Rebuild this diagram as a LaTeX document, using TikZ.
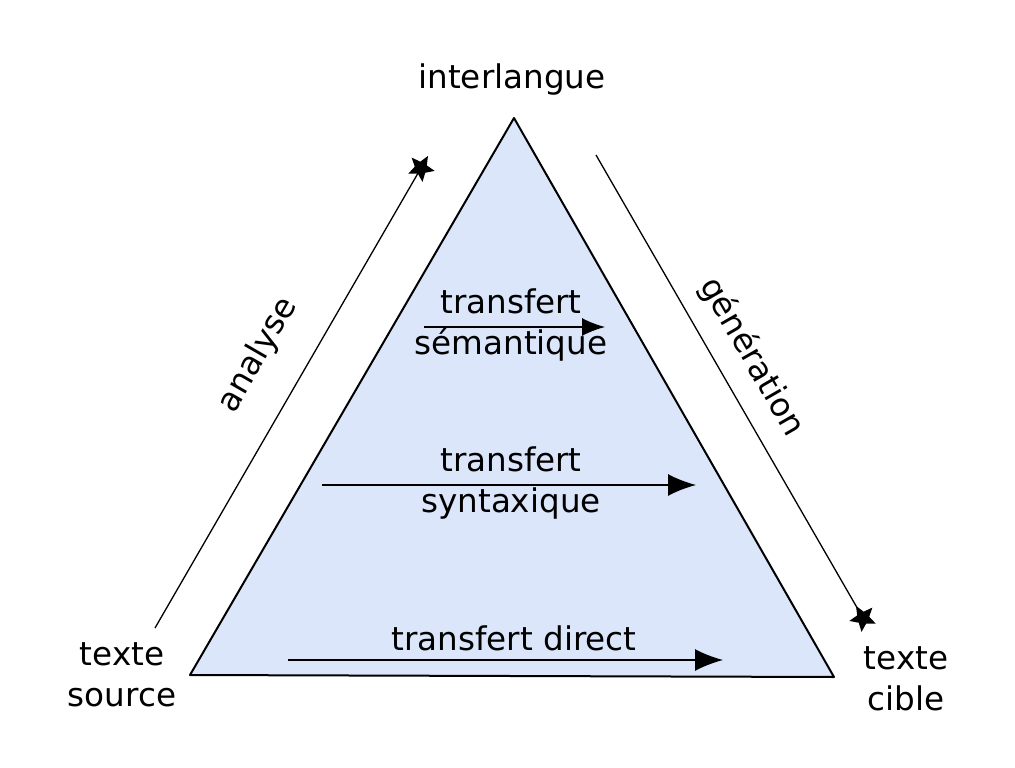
\documentclass[tikz,border=0pt]{standalone}
\usepackage{fontspec}
\setmainfont{DejaVu Sans}
\usetikzlibrary{arrows.meta,shapes.geometric}
\definecolor{tri}{RGB}{220,230,250}
\tikzset{
  lbl/.style={font=\fontsize{32.6}{41}\selectfont, align=center, inner sep=0pt},
  thin/.style={line width=1.3pt},
  xfer/.style={line width=1.6pt, -{Latex[length=28pt,width=22pt]}},
  starhead/.style={star, star points=5, star point ratio=2.2, fill=black, draw=none, inner sep=0pt, minimum size=28pt}
}
\begin{document}
\begin{tikzpicture}[x=1pt,y=-1pt]
\useasboundingbox (0,0) rectangle (1015,768);
% triangle
\coordinate (A) at (514,118);
\coordinate (B) at (190,675);
\coordinate (C) at (834,677);
\draw[fill=tri, line width=2pt, line join=round] (A) -- (B) -- (C) -- cycle;
% labels
\node[lbl] (inter) at (512,80) {interlangue};
\node[lbl] (src) at (122,675) {texte\\source};
\node[lbl] (tgt) at (906,679) {texte\\cible};
\node[lbl, rotate=60] (ana) at (258,355) {analyse};
\node[lbl, rotate=-60] (gen) at (752,357) {génération};
\node[lbl] (sem) at (511,325) {transfert\\sémantique};
\node[lbl] (syn) at (511,483) {transfert\\syntaxique};
\node[lbl] (dir) at (514,638) {transfert direct};
% analyse / generation arrows
\coordinate (a0) at (155,628);
\node[starhead, rotate=-30] (s1) at (421,168) {};
\draw[thin] (a0) -- (s1.center);
\coordinate (g0) at (596,155);
\node[starhead, rotate=30] (s2) at (863,618) {};
\draw[thin] (g0) -- (s2.center);
% transfer arrows
\coordinate (sem0) at (424,327);
\coordinate (sem1) at (605,327);
\draw[line width=1.4pt, -{Latex[length=23pt,width=18pt]}] (sem0) -- (sem1);
\coordinate (syn0) at (322,485);
\coordinate (syn1) at (696,485);
\draw[xfer] (syn0) -- (syn1);
\coordinate (dir0) at (288,660);
\coordinate (dir1) at (723,660);
\draw[xfer] (dir0) -- (dir1);
\end{tikzpicture}
\end{document}
